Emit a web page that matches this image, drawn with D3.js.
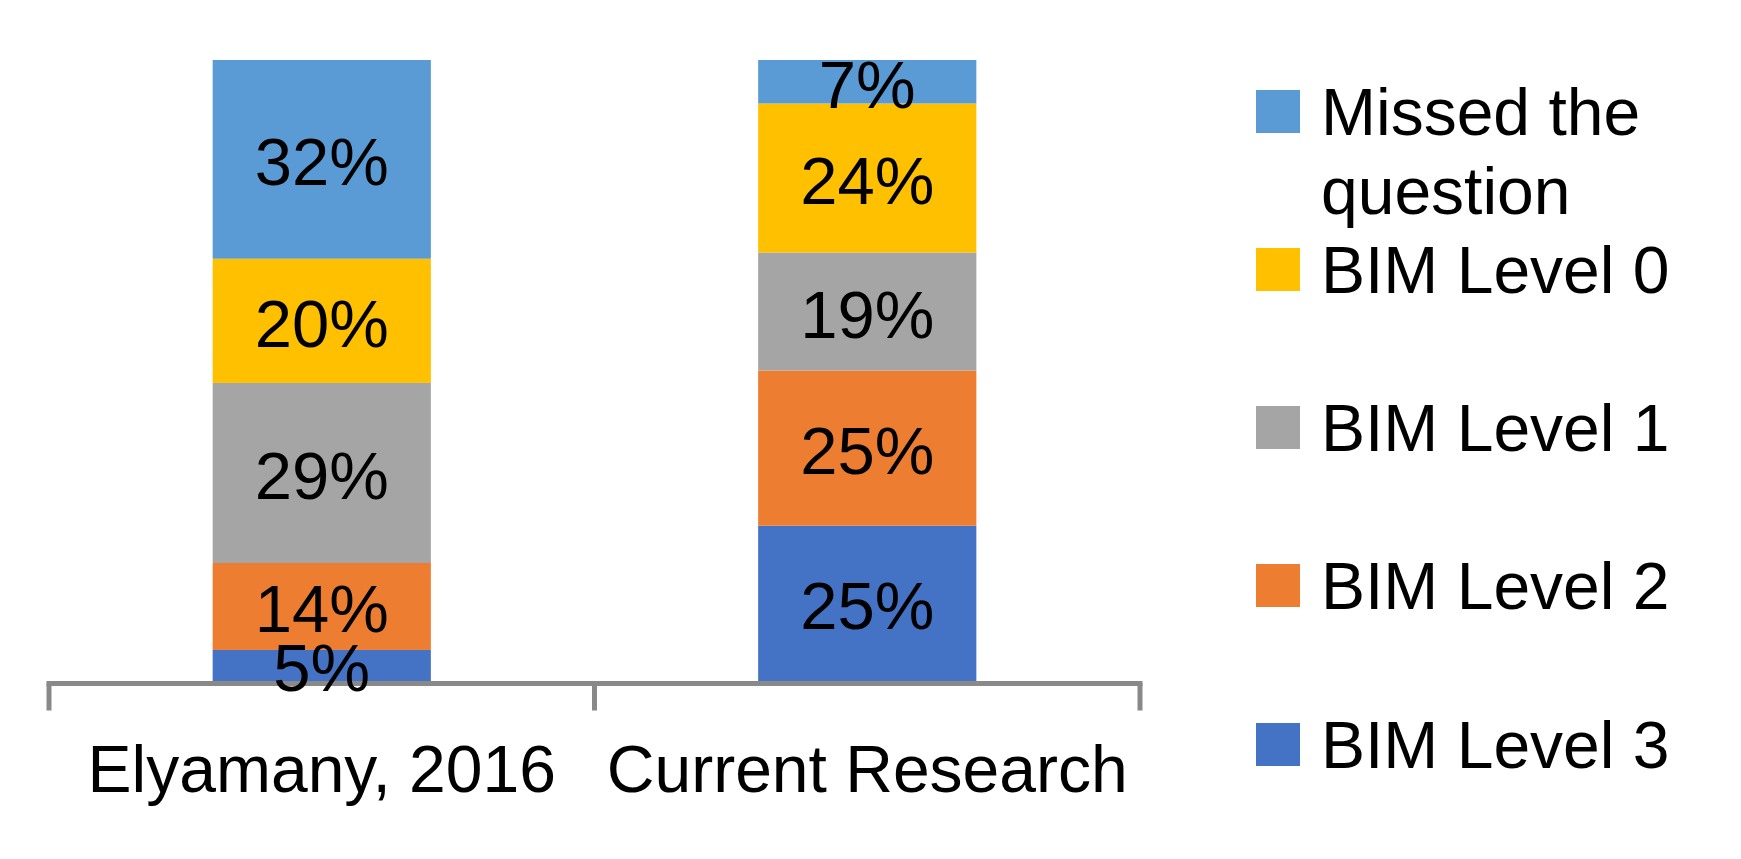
<!DOCTYPE html>
<html>
<head>
<meta charset="utf-8">
<script src="https://cdn.jsdelivr.net/npm/d3@7"></script>
<style>
  html, body { margin: 0; padding: 0; background: #ffffff; }
  svg { display: block; }
  text { font-family: "Liberation Sans", Arial, Helvetica, sans-serif; fill: #000; }
</style>
</head>
<body>
<svg id="chart" width="1741" height="859"></svg>
<script>
// ---- data ----
const categories = ["Elyamany, 2016", "Current Research"];
const seriesNames = ["BIM Level 3", "BIM Level 2", "BIM Level 1", "BIM Level 0", "Missed the question"];
const level3 = [5, 25];
const level2 = [14, 25];
const level1 = [29, 19];
const level0 = [20, 24];
const missed = [32, 7];
const seriesColors = ["#4472C4", "#ED7D31", "#A5A5A5", "#FFC000", "#5B9BD5"];
const legendOrder = ["Missed the question", "BIM Level 0", "BIM Level 1", "BIM Level 2", "BIM Level 3"];

// ---- build table ----
const seriesValues = [level3, level2, level1, level0, missed];
const table = categories.map((c, i) => {
  const row = { category: c };
  seriesNames.forEach((s, j) => { row[s] = seriesValues[j][i]; });
  return row;
});
const stacked = d3.stack().keys(seriesNames)(table);

const svg = d3.select("#chart");
const FONT = 66;
const LABEL_FONT = 67;

const x = d3.scaleBand().domain(categories).range([49, 1140]).paddingInner(0.6).paddingOuter(0.3);
const y = d3.scaleLinear().domain([0, 100]).range([681, 60]);
const color = d3.scaleOrdinal().domain(seriesNames).range(seriesColors);

// bars
const layers = svg.append("g").selectAll("g").data(stacked).join("g")
  .attr("fill", d => color(d.key));
layers.selectAll("rect").data(d => d).join("rect")
  .attr("x", d => x(d.data.category))
  .attr("width", x.bandwidth())
  .attr("y", d => y(d[1]))
  .attr("height", d => y(d[0]) - y(d[1]));

// axis
const axisY = 683.5;
const axisG = svg.append("g").attr("transform", `translate(0,${axisY})`);
axisG.call(d3.axisBottom(x).tickSize(0).tickPadding(0).tickSizeOuter(0));
axisG.select(".domain").remove();
axisG.selectAll(".tick text")
  .attr("y", 108).attr("dy", 0)
  .style("font-size", FONT + "px")
  .style("font-family", '"Liberation Sans", Arial, sans-serif')
  .attr("fill", "#000");
const boundaries = [x.range()[0], (x(categories[0]) + x.bandwidth() + x(categories[1])) / 2, x.range()[1]];
axisG.append("line")
  .attr("x1", boundaries[0] - 2.5).attr("x2", boundaries[2] + 2.5)
  .attr("y1", 0).attr("y2", 0)
  .attr("stroke", "#898989").attr("stroke-width", 5);
axisG.selectAll(".btick").data(boundaries).join("line")
  .attr("class", "btick")
  .attr("x1", d => d).attr("x2", d => d)
  .attr("y1", 0).attr("y2", 27)
  .attr("stroke", "#898989").attr("stroke-width", 5);

// data labels
const labelG = svg.append("g");
stacked.forEach(layer => {
  layer.forEach(d => {
    const v = d[1] - d[0];
    labelG.append("text")
      .attr("x", x(d.data.category) + x.bandwidth() / 2)
      .attr("y", (y(d[0]) + y(d[1])) / 2 + 26)
      .attr("text-anchor", "middle")
      .style("font-size", LABEL_FONT + "px")
      .text(v + "%");
  });
});

// legend
const legendRows = [
  { name: "Missed the question", lines: ["Missed the", "question"], top: 90 },
  { name: "BIM Level 0", lines: ["BIM Level 0"], top: 248 },
  { name: "BIM Level 1", lines: ["BIM Level 1"], top: 406 },
  { name: "BIM Level 2", lines: ["BIM Level 2"], top: 564 },
  { name: "BIM Level 3", lines: ["BIM Level 3"], top: 723 }
];
const lg = svg.append("g");
legendRows.forEach(r => {
  lg.append("rect").attr("x", 1256).attr("y", r.top).attr("width", 44).attr("height", 43)
    .attr("fill", color(r.name));
  const t = lg.append("text").attr("x", 1321).attr("y", r.top + 45).style("font-size", FONT + "px");
  r.lines.forEach((ln, i) => {
    t.append("tspan").attr("x", 1321).attr("dy", i === 0 ? 0 : 79).text(ln);
  });
});
</script>
</body>
</html>
